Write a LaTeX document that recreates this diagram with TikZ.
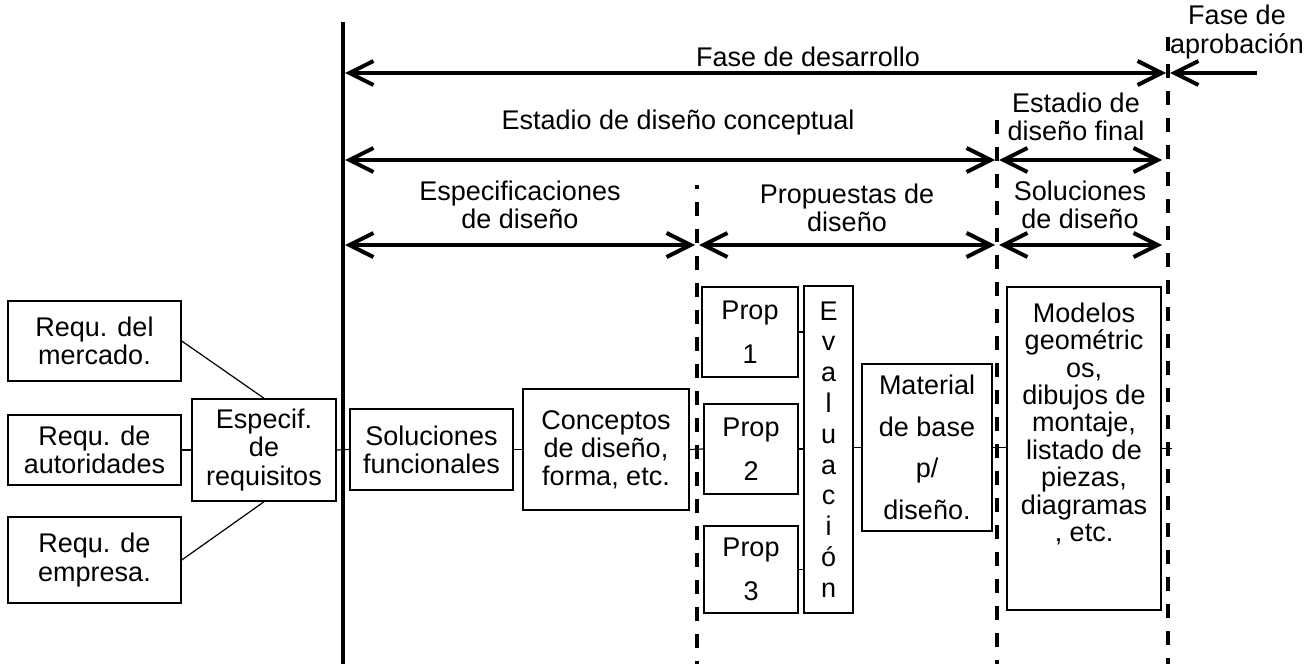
\documentclass[tikz,border=0pt]{standalone}
\usepackage{fontspec}
\setmainfont{Liberation Sans}
\usetikzlibrary{arrows.meta}

\tikzset{
  caja/.style={draw,line width=.75pt,inner sep=0pt,align=center},
  tramo/.style={line width=2pt,{Straight Barb[length=12pt,width=12pt]}-{Straight Barb[length=12pt,width=12pt]}},
  limite/.style={line width=2pt,dash pattern=on 7pt off 6.5pt},
  enlace/.style={line width=.6pt}
}

\begin{document}
\begin{tikzpicture}[x=.5pt,y=-.5pt,font=\fontsize{13.5}{14.1}\selectfont]%[px]
  \useasboundingbox (0,0) rectangle (1304,664);
  % limites de fases
  \draw[line width=2.2pt] (343,22) -- (343,664);
  \draw[limite,dash phase=5pt] (697,185) -- (697,664);
  \draw[limite] (997,120) -- (997,664);
  \draw[limite] (1168,37) -- (1168,664);
  % tramos
  \draw[tramo] (345,73) -- (1166,73);
  \draw[line width=2pt,{Straight Barb[length=12pt,width=12pt]}-] (1170,73) -- (1257,73);
  \draw[tramo] (345,160) -- (995,160);
  \draw[tramo] (999,160) -- (1162,160);
  \draw[tramo] (345,245) -- (695,245);
  \draw[tramo] (699,245) -- (995,245);
  \draw[tramo] (999,245) -- (1162,245);
  \node (desarrollo) at (808,57) {Fase de desarrollo};
  \node[align=center] (aprobacion) at (1237,32) {Fase de\\aprobación};
  \node (conceptual) at (678,123) {Estadio de diseño conceptual};
  \node[align=center] (final) at (1076,117) {Estadio de\\diseño final};
  \node[align=center] (especificaciones) at (520,205) {Especificaciones\\de diseño};
  \node[align=center] (propuestas) at (847,208) {Propuestas de\\diseño};
  \node[align=center] (soluciones) at (1080,205) {Soluciones\\de diseño};
  % cajas
  \node[caja,minimum width=86.5pt,minimum height=40pt] (mercado) at (94.5,341) {Requ. del\\mercado.};
  \node[caja,minimum width=86.5pt,minimum height=35pt] (autoridades) at (94.5,450) {Requ. de\\autoridades};
  \node[caja,minimum width=86.5pt,minimum height=43pt] (empresa) at (94.5,560) {Requ. de\\empresa.};
  \node[caja,minimum width=72pt,minimum height=51pt] (requisitos) at (264,450) {Especif.\\de\\requisitos};
  \node[caja,minimum width=81.5pt,minimum height=40.5pt] (funcionales) at (431.5,449.5) {Soluciones\\funcionales};
  \node[caja,minimum width=83pt,minimum height=60.5pt] (conceptos) at (606,449.5) {Conceptos\\de diseño,\\forma, etc.};
  \node[caja,minimum width=48pt,minimum height=45pt,font=\fontsize{13.5}{22}\selectfont] (prop1) at (750,332) {Prop\\1};
  \node[caja,minimum width=47pt,minimum height=45pt,font=\fontsize{13.5}{22}\selectfont] (prop2) at (751,449) {Prop\\2};
  \node[caja,minimum width=47pt,minimum height=43.5pt,font=\fontsize{13.5}{22}\selectfont] (prop3) at (751,569.5) {Prop\\3};
  \node[caja,minimum width=24.5pt,minimum height=163.5pt,font=\fontsize{13.5}{15.4}\selectfont] (evaluacion) at (828.5,449.5) {E\\v\\a\\l\\u\\a\\c\\i\\ó\\n};
  \node[caja,minimum width=65pt,minimum height=83.5pt,font=\fontsize{13.5}{20.8}\selectfont] (material) at (927,447.5) {Material\\de base\\p/\\diseño.};
  \node[caja,minimum width=77pt,minimum height=161.5pt,
    label={[anchor=north,align=center,inner sep=0pt,yshift=-8pt,font=\fontsize{13.5}{13.7}\selectfont]north:Modelos\\geométric\\os,\\dibujos de\\montaje,\\listado de\\piezas,\\diagramas\\, etc.}] (modelos) at (1084,448.5) {};
  \coordinate (salida) at (1172,448.5);
  % enlaces
  \draw[enlace] (mercado.east) -- (requisitos.north);
  \draw[enlace] (autoridades.east) -- (requisitos.west);
  \draw[enlace] (empresa.east) -- (requisitos.south);
  \draw[enlace] (requisitos.east) -- (funcionales.west);
  \draw[enlace] (funcionales.east) -- (conceptos.west);
  \draw[enlace] (conceptos.east) -- (prop2.west);
  \foreach \p in {prop1,prop2,prop3}
    \draw[enlace] (\p.east) -- (\p.east -| evaluacion.west);
  \draw[enlace] (evaluacion.east |- material.west) -- (material.west);
  \draw[enlace] (material.east) -- (material.east -| modelos.west);
  \draw[enlace] (modelos.east) -- (salida);
\end{tikzpicture}
\end{document}
